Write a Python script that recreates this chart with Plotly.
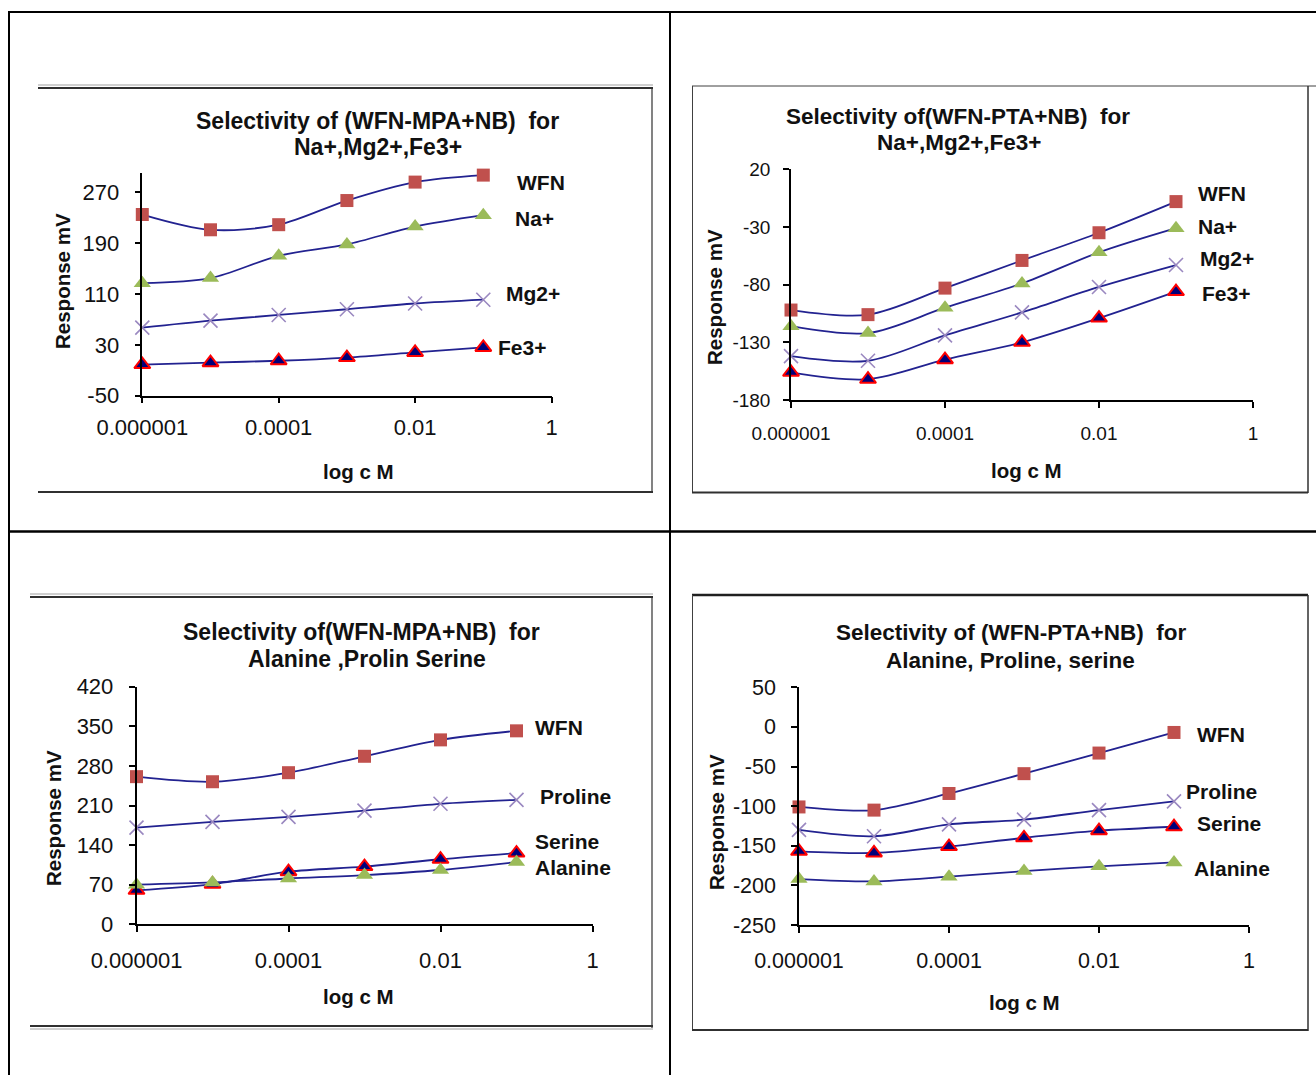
import plotly.graph_objects as go

W, H = 1316, 1075

# Concentrations (mol/L) and axis labels shared by all four charts
conc = [1e-6, 1e-5, 1e-4, 1e-3, 1e-2, 1e-1]
conc_ticks = [1e-6, 1e-4, 1e-2, 1]
conc_tick_text = ["0.000001", "0.0001", "0.01", "1"]

# (WFN-MPA+NB) electrode, cations
mpa_wfn = [235, 211, 219, 257, 286, 297]
mpa_na = [127, 135, 170, 188, 216, 234]
mpa_mg = [57, 68, 77, 86, 95, 101]
mpa_fe = [-1, 2, 5, 10, 18, 26]
mpa_yticks = [-50, 30, 110, 190, 270]

# (WFN-PTA+NB) electrode, cations
pta_wfn = [-102, -106, -83, -59, -35, -8]
pta_na = [-116, -122, -100, -79, -52, -31]
pta_mg = [-142, -146, -124, -104, -82, -63]
pta_fe = [-156, -162, -145, -130, -109, -86]
pta_yticks = [-180, -130, -80, -30, 20]

# (WFN-MPA+NB) electrode, amino acids
mpa_aa_wfn = [261, 252, 268, 297, 326, 342]
mpa_aa_pro = [171, 181, 190, 201, 213, 220]
mpa_aa_ser = [60, 71, 93, 102, 115, 126]
mpa_aa_ala = [70, 74, 81, 87, 96, 110]
mpa_aa_yticks = [0, 70, 140, 210, 280, 350, 420]

# (WFN-PTA+NB) electrode, amino acids
pta_aa_wfn = [-101, -105, -84, -59, -33, -7]
pta_aa_pro = [-130, -138, -123, -117, -105, -94]
pta_aa_ser = [-157, -159, -151, -140, -131, -126]
pta_aa_ala = [-192, -195, -189, -182, -176, -171]
pta_aa_yticks = [-250, -200, -150, -100, -50, 0, 50]

FONT = "Liberation Sans, Arial, sans-serif"
LINE = "#222290"
INK = "#111111"

STYLE = {
    "square": dict(symbol="square", size=13, color="#C0504D"),
    "green": dict(symbol="triangle-up", size=15, color="#9BBB59"),
    "cross": dict(symbol="x-thin", size=14, color="#9A88C0",
                  line=dict(width=1.6, color="#9A88C0")),
    "navy": dict(symbol="triangle-up", size=14, color="#00007A",
                 line=dict(width=2, color="#FF0000")),
}


def fx(px):
    return px / W


def fy(py):
    return 1 - py / H


panels = [
    dict(box=(142.3, 551.5, 173.2, 395.7), yrange=(-50, 300), yticks=mpa_yticks,
         title=("Selectivity of (WFN-MPA+NB)  for", "Na+,Mg2+,Fe3+"),
         title_pos=((377, 121), (378, 147)), title_size=23,
         xtitle_xy=(358, 472), ytitle_xy=(62, 281), tick_size=22,
         xstand=5, ystand=11,
         series=[("WFN", mpa_wfn, "square", (515, 183)),
                 ("Na+", mpa_na, "green", (513, 219)),
                 ("Mg2+", mpa_mg, "cross", (504, 293)),
                 ("Fe3+", mpa_fe, "navy", (496, 348))]),
    dict(box=(791, 1253, 169.3, 400), yrange=(-180, 20), yticks=pta_yticks,
         title=("Selectivity of(WFN-PTA+NB)  for", "Na+,Mg2+,Fe3+"),
         title_pos=((958, 117), (959, 142)), title_size=22.5,
         xtitle_xy=(1026, 470), ytitle_xy=(714, 297), tick_size=19,
         xstand=9, ystand=9,
         series=[("WFN", pta_wfn, "square", (1196, 193)),
                 ("Na+", pta_na, "green", (1196, 226)),
                 ("Mg2+", pta_mg, "cross", (1198, 258)),
                 ("Fe3+", pta_fe, "navy", (1200, 293))]),
    dict(box=(136.5, 592.5, 686.7, 924.3), yrange=(0, 420), yticks=mpa_aa_yticks,
         title=("Selectivity of(WFN-MPA+NB)  for", "Alanine ,Prolin Serine"),
         title_pos=((361, 632), (367, 659)), title_size=23,
         xtitle_xy=(358, 996), ytitle_xy=(53, 818), tick_size=22,
         xstand=10, ystand=11,
         series=[("WFN", mpa_aa_wfn, "square", (533, 727)),
                 ("Proline", mpa_aa_pro, "cross", (538, 796)),
                 ("Serine", mpa_aa_ser, "navy", (533, 841)),
                 ("Alanine", mpa_aa_ala, "green", (533, 867))]),
    dict(box=(799, 1249, 687.3, 925), yrange=(-250, 50), yticks=pta_aa_yticks,
         title=("Selectivity of (WFN-PTA+NB)  for", "Alanine, Proline, serine"),
         title_pos=((1011, 633), (1010, 660)), title_size=22.5,
         xtitle_xy=(1024, 1002), ytitle_xy=(716, 822), tick_size=21.5,
         xstand=9, ystand=11,
         series=[("WFN", pta_aa_wfn, "square", (1195, 734)),
                 ("Proline", pta_aa_pro, "cross", (1184, 791)),
                 ("Serine", pta_aa_ser, "navy", (1195, 824)),
                 ("Alanine", pta_aa_ala, "green", (1192, 868))]),
]

fig = go.Figure()
annotations = []
layout_axes = {}


def label(px, py, text, size, anchor="center", angle=0, bold=True):
    annotations.append(dict(
        x=fx(px), y=fy(py), xref="paper", yref="paper", text=text,
        showarrow=False, xanchor=anchor, yanchor="middle", textangle=angle,
        font=dict(family=FONT, size=size, color=INK,
                  weight="bold" if bold else "normal"),
    ))


for i, p in enumerate(panels, start=1):
    sx = "" if i == 1 else str(i)
    x0, x1, y0, y1 = p["box"]
    tick_font = dict(family=FONT, size=p["tick_size"], color=INK)
    layout_axes["xaxis" + sx] = dict(
        domain=[fx(x0), fx(x1)], anchor="y" + sx, type="log", range=[-6, 0],
        tickvals=conc_ticks, ticktext=conc_tick_text, ticks="outside", ticklen=6,
        tickwidth=1.5, tickcolor="black", showline=True, linecolor="black",
        linewidth=1.5, showgrid=False, zeroline=False, automargin=False,
        tickfont=tick_font, ticklabelstandoff=p["xstand"],
    )
    layout_axes["yaxis" + sx] = dict(
        domain=[fy(y1), fy(y0)], anchor="x" + sx, range=list(p["yrange"]),
        tickvals=p["yticks"], ticktext=[str(v) for v in p["yticks"]],
        ticks="outside", ticklen=6, tickwidth=1.5,
        tickcolor="black", showline=True, linecolor="black", linewidth=1.5,
        showgrid=False, zeroline=False, automargin=False,
        tickfont=tick_font, ticklabelstandoff=p["ystand"],
    )
    for name, vals, kind, lab in p["series"]:
        fig.add_trace(go.Scatter(
            x=conc, y=vals, mode="lines+markers", name=name,
            xaxis="x" + sx, yaxis="y" + sx, cliponaxis=False, showlegend=False,
            line=dict(color=LINE, width=1.8, shape="spline", smoothing=0.9),
            marker=STYLE[kind],
        ))
        label(lab[0], lab[1], name, 21, anchor="left")
    for text, pos in zip(p["title"], p["title_pos"]):
        label(pos[0], pos[1], text, p["title_size"])
    label(*p["xtitle_xy"], "log c M", 20.5)
    label(*p["ytitle_xy"], "Response mV", 20.5, angle=-90)

# Page table grid and chart frames (pixel coordinates)
shapes = []


def seg(xa, ya, xb, yb, width=1, color="black"):
    shapes.append(dict(type="line", xref="paper", yref="paper",
                       x0=fx(xa), y0=fy(ya), x1=fx(xb), y1=fy(yb),
                       line=dict(color=color, width=width)))


# table borders
seg(8, 12, 1316, 12, 2)
seg(9, 12, 9, 1075, 2)
seg(670, 12, 670, 1075, 2)
seg(8, 531.5, 1316, 531.5, 2.5)

# top-left chart frame
seg(38, 85, 653, 85, 1, "#A0A0A0")
seg(38, 88, 653, 88, 2, "#303030")
seg(652, 88, 652, 492, 1.2, "#303030")
seg(38, 492, 653, 492, 2, "#303030")

# top-right chart frame
seg(692, 86, 1316, 86, 1, "#404040")
seg(692.5, 86, 692.5, 493, 1, "#404040")
seg(1308, 86, 1308, 493, 1.5, "#303030")
seg(692, 492.5, 1308, 492.5, 2, "#303030")

# bottom-left chart frame
seg(30, 594, 653, 594, 1, "#A0A0A0")
seg(30, 597, 653, 597, 2, "#303030")
seg(652, 597, 652, 1028, 1.2, "#303030")
seg(30, 1026, 653, 1026, 2, "#303030")
seg(30, 1029, 653, 1029, 1, "#A0A0A0")

# bottom-right chart frame
seg(692, 595, 1308, 595, 2.5, "#202020")
seg(692.5, 595, 692.5, 1031, 1, "#404040")
seg(1308, 595, 1308, 1031, 1.5, "#303030")
seg(692, 1030, 1308, 1030, 2, "#303030")

fig.update_layout(
    width=W, height=H, margin=dict(l=0, r=0, t=0, b=0),
    paper_bgcolor="white", plot_bgcolor="white",
    annotations=annotations, shapes=shapes, showlegend=False,
    **layout_axes,
)

fig.write_html("out.html")
